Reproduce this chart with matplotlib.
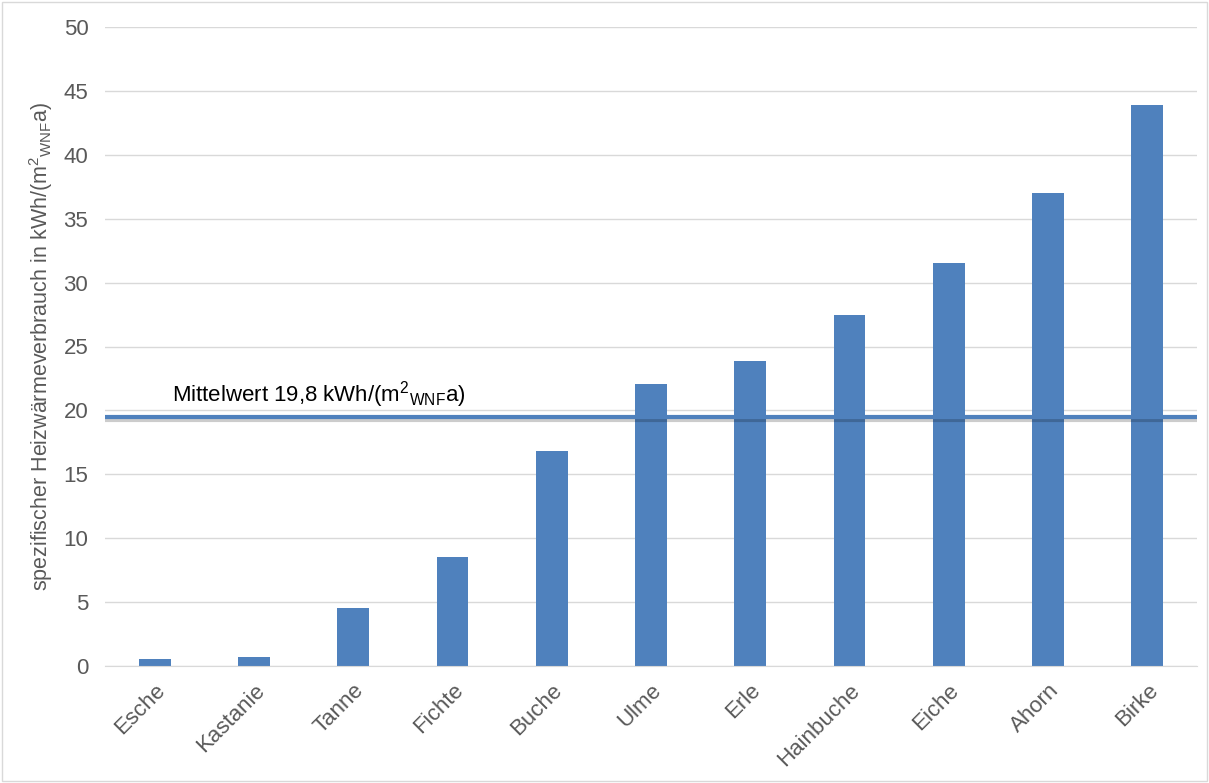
import numpy as np
import matplotlib.pyplot as plt
import matplotlib.patheffects as pe

# -----------------------------
# Data
# -----------------------------
woods = ["Esche", "Kastanie", "Tanne", "Fichte", "Buche", "Ulme",
         "Erle", "Hainbuche", "Eiche", "Ahorn", "Birke"]
consumption = [0.55, 0.7, 4.55, 8.5, 16.8, 22.1, 23.9, 27.5, 31.5, 37.0, 43.9]
mean_value = 19.45
mean_label = "Mittelwert 19,8 kWh/(m$^2$$_{\\mathrm{WNF}}$a)"
y_ticks = [0, 5, 10, 15, 20, 25, 30, 35, 40, 45, 50]

text_gray = "#595959"
bar_blue = "#4F81BD"

plt.rcParams["font.family"] = ["Liberation Sans", "DejaVu Sans"]
plt.rcParams["mathtext.fontset"] = "custom"
plt.rcParams["mathtext.rm"] = "Liberation Sans"

# -----------------------------
# Plot
# -----------------------------
fig = plt.figure(figsize=(12.09, 7.83), dpi=100)
ax = fig.add_axes([105 / 1209, 1 - 666 / 783, 1092 / 1209, 639 / 783])

x = np.arange(len(woods))
ax.bar(x, consumption, width=0.32, color=bar_blue, zorder=2)

ax.axhline(mean_value, color=bar_blue, lw=3, zorder=3,
           path_effects=[pe.SimpleLineShadow(offset=(0.5, -1.5), alpha=0.2),
                         pe.Normal()])
ax.text(0.17, mean_value + 0.55, mean_label, fontsize=16, color="black",
        va="bottom", ha="left", zorder=4)

ax.set_xlim(-0.5, len(woods) - 0.5)
ax.set_ylim(0, 50)
ax.set_yticks(y_ticks)
ax.yaxis.grid(True, color="#D9D9D9", lw=1, zorder=0)
ax.set_axisbelow(True)

ax.set_xticks(x)
ax.set_xticklabels(woods, rotation=45, ha="right", rotation_mode="anchor",
                   fontsize=16, color=text_gray)
ax.tick_params(axis="y", labelsize=16, labelcolor=text_gray, length=0, pad=12)
ax.tick_params(axis="x", length=0, pad=10)

for side in ["top", "right", "left"]:
    ax.spines[side].set_visible(False)
ax.spines["bottom"].set_color("#D9D9D9")

ax.set_ylabel("spezifischer Heizwärmeverbrauch in kWh/(m$^2$$_{\\mathrm{WNF}}$a)",
              fontsize=15.5, color=text_gray, labelpad=6)

# chart border
fig.patches.append(plt.Rectangle((0.002, 0.002), 0.996, 0.996,
                                 transform=fig.transFigure, fill=False,
                                 edgecolor="#D9D9D9", lw=1))

fig.savefig("out.png", dpi=100)
